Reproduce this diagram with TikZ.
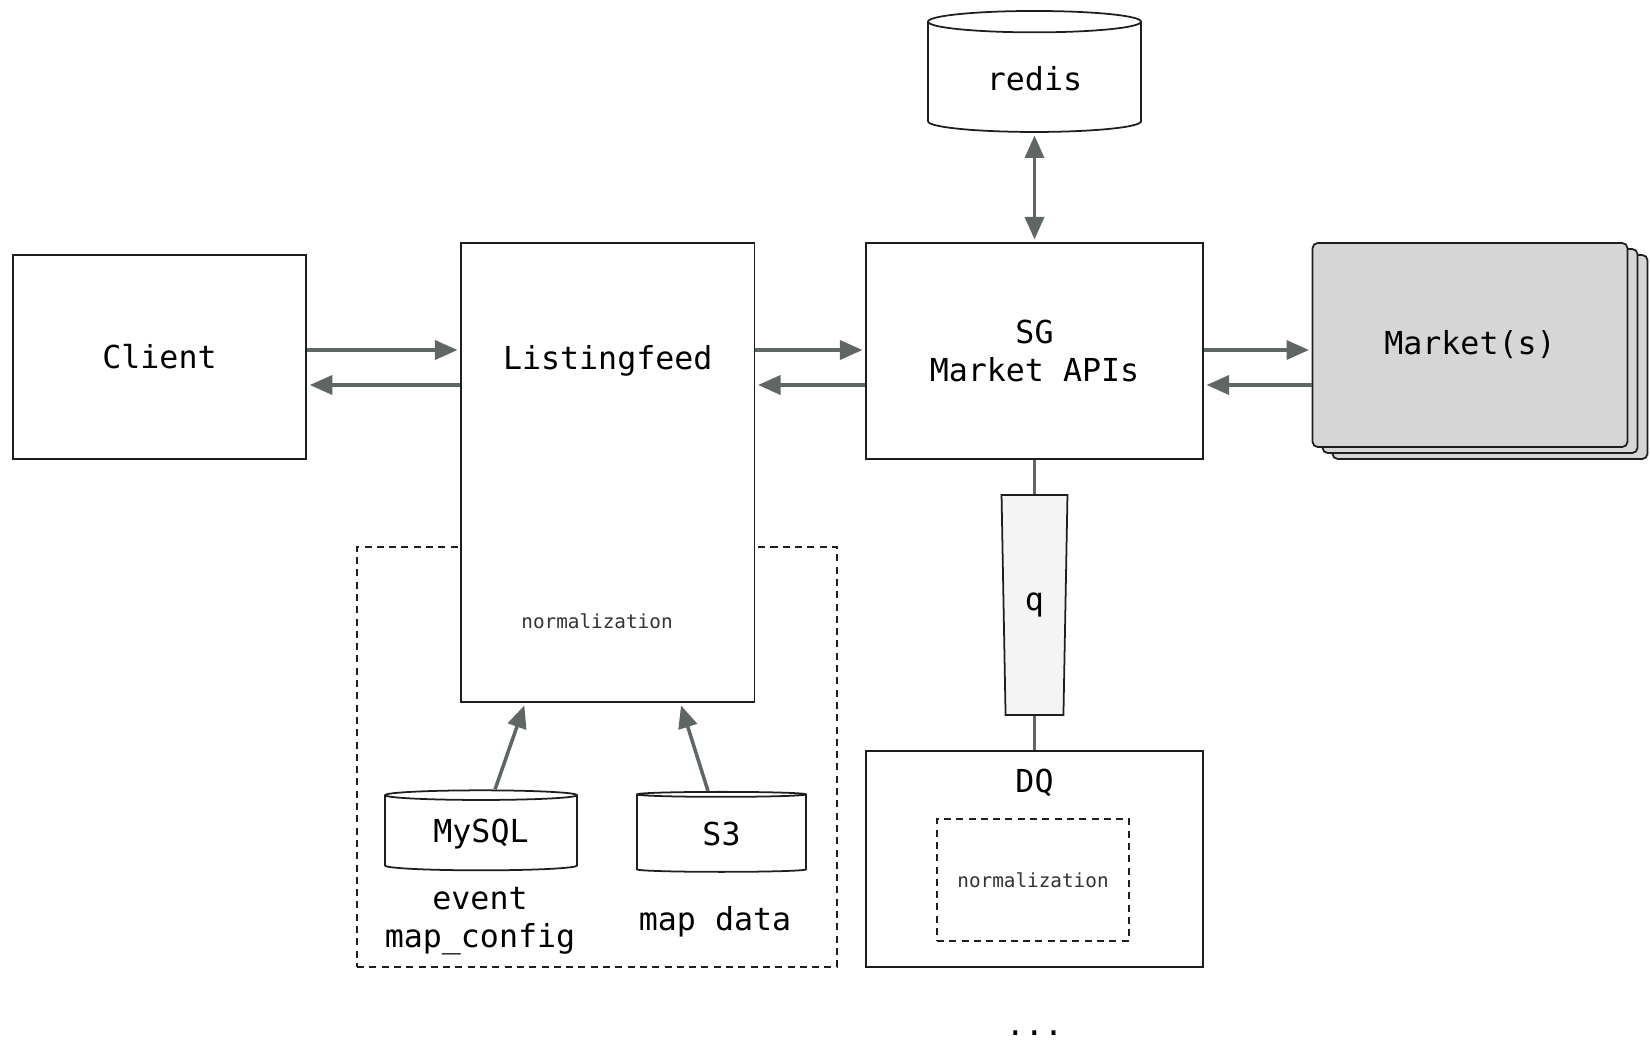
\documentclass[tikz,border=0pt]{standalone}
\usepackage{fontspec}
\setmonofont{DejaVu Sans Mono}
\usepackage{xcolor}
\usepackage{tikz}
\usetikzlibrary{shapes.geometric, arrows.meta, positioning, calc, shadows}
\definecolor{flowgray}{RGB}{95,103,102}
\definecolor{edgeblack}{RGB}{30,30,30}
\definecolor{marketgray}{RGB}{214,214,214}
\definecolor{queuegray}{RGB}{244,244,244}
\tikzset{
    svcbox/.style={rectangle, draw=edgeblack, line width=1pt, fill=white,
        text centered, font=\ttfamily\fontsize{18}{22}\selectfont},
    dbcyl/.style={cylinder, shape border rotate=90, draw=edgeblack, line width=1pt,
        fill=white, text centered, font=\ttfamily\fontsize{18}{22}\selectfont},
    groupbox/.style={rectangle, draw=edgeblack, line width=1pt, dash pattern=on 4pt off 3pt},
    smalltext/.style={font=\ttfamily\fontsize{11}{13}\selectfont, text=black!80},
    plaintext/.style={font=\ttfamily\fontsize{18}{22}\selectfont, align=center},
    queuebox/.style={trapezium, shape border rotate=180, trapezium stretches=true,
        trapezium angle=86.6, draw=edgeblack, line width=1pt, fill=queuegray,
        font=\ttfamily\fontsize{18}{22}\selectfont},
    flow/.style={-{Triangle[length=0.45cm, width=0.38cm]}, line width=2pt, flowgray, shorten >=1.5pt},
    biflow/.style={{Triangle[length=0.45cm, width=0.38cm]}-{Triangle[length=0.45cm, width=0.38cm]},
        line width=2pt, flowgray, shorten >=1.5pt, shorten <=1.5pt},
    link/.style={line width=2pt, flowgray},
}

\begin{document}
\begin{tikzpicture}
    \useasboundingbox (0,0) rectangle (33,-20.84);
    % group round the listingfeed inputs
    \node[groupbox, minimum width=9.6cm, minimum height=8.4cm] (lfgroup) at (11.94,-15.14) {};

    \node[svcbox, minimum width=5.87cm, minimum height=4.08cm] (client) at (3.19,-7.14) {Client};
    \node[svcbox, minimum width=5.87cm, minimum height=9.18cm] (lf) at (12.155,-9.45) {};
    \node[plaintext] (lftitle) at ($(lf.north)+(0,-2.38)$) {Listingfeed};
    \node[smalltext] (lfnorm) at ($(lfgroup.north)+(0,-1.5)$) {normalization};

    \node[svcbox, minimum width=6.74cm, minimum height=4.32cm, align=center] (sg) at (20.69,-7.02)
        {SG\\Market APIs};
    \node[svcbox, fill=marketgray, rounded corners=3pt, minimum width=6.3cm, minimum height=4.08cm,
        double copy shadow={shadow xshift=0.2cm, shadow yshift=-0.12cm}] (market) at (29.4,-6.9) {Market(s)};

    \node[dbcyl, minimum width=4.26cm, minimum height=2.42cm, aspect=0.2] (redis) at (20.69,-1.58) {redis};

    % stores feeding listingfeed
    \node[dbcyl, minimum width=3.84cm, minimum height=1.6cm, aspect=0.09] (mysql) at (9.62,-16.68) {MySQL};
    \node[dbcyl, minimum width=3.38cm, minimum height=1.6cm, aspect=0.1] (s3) at (14.43,-16.68) {S3};
    \node[plaintext] (mysqldata) at (9.6,-18.42) {event\\map\_config};
    \node[plaintext] (s3data) at (14.3,-18.44) {map data};

    % DQ side
    \node[svcbox, minimum width=6.74cm, minimum height=4.32cm] (dq) at (20.69,-17.18) {};
    \node[plaintext] (dqtitle) at ($(dq.north)+(0,-0.66)$) {DQ};
    \node[groupbox, smalltext, minimum width=3.84cm, minimum height=2.44cm] (dqnorm) at (20.66,-17.6) {normalization};
    \node[plaintext] (more) at (20.69,-20.66) {...};

    \draw[link] (sg.south) -- (dq.north);
    \node[queuebox, minimum width=1.32cm, minimum height=4.4cm] (q) at (20.69,-12.1) {q};

    % request / response pairs
    \coordinate (fwd) at (0,-7.0);
    \coordinate (back) at (0,-7.7);
    \draw[flow] (client.east |- fwd) -- (lf.west |- fwd);
    \draw[flow] (lf.west |- back) -- (client.east |- back);
    \draw[flow] (lf.east |- fwd) -- (sg.west |- fwd);
    \draw[flow] (sg.west |- back) -- (lf.east |- back);
    \draw[flow] (sg.east |- fwd) -- (market.west |- fwd);
    \draw[flow] (market.west |- back) -- (sg.east |- back);
    \draw[biflow] (redis.south) -- (sg.north);

    \draw[flow] ($(mysql.north)+(0.28,0)$) -- ($(lf.south)+(-1.65,0)$);
    \draw[flow] ($(s3.north)+(-0.27,0)$) -- ($(lf.south)+(1.45,0)$);
\end{tikzpicture}
\end{document}
